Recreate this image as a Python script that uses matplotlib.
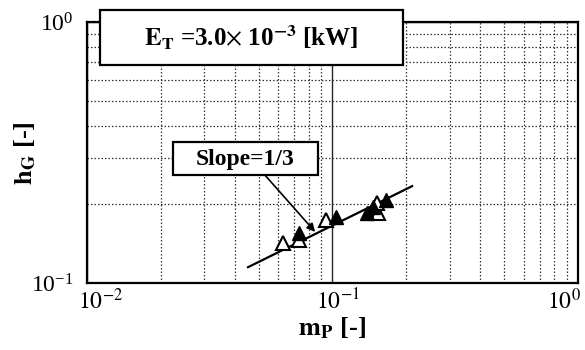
import matplotlib
matplotlib.use("Agg")
import matplotlib.pyplot as plt
from matplotlib.patches import Rectangle
from matplotlib.ticker import NullFormatter

plt.rcParams['font.family'] = 'serif'
plt.rcParams['font.serif'] = ['Liberation Serif', 'DejaVu Serif']
plt.rcParams['mathtext.fontset'] = 'stix'

# data
open_x = [0.063, 0.073, 0.094, 0.153, 0.152]
open_y = [0.142, 0.146, 0.174, 0.185, 0.203]
filled_x = [0.073, 0.103, 0.138, 0.146, 0.165]
filled_y = [0.155, 0.179, 0.185, 0.195, 0.208]
fit_x = [0.0453, 0.211]
fit_y = [0.115, 0.235]

x_ticks = [0.01, 0.1, 1]
x_ticklabels = [r'$10^{-2}$', r'$10^{-1}$', r'$10^{0}$']

# label arrow (tail -> head) in data units
arrow_tail = (0.0531, 0.259)
arrow_head = (0.085, 0.157)

fig = plt.figure(figsize=(5.85, 3.5), dpi=100)
ax = fig.add_axes([0.1487, 0.1914, 0.8393, 0.7457])

ax.set_xscale('log')
ax.set_yscale('log')
ax.set_xlim(0.01, 1)
ax.set_ylim(0.1, 1)
ax.xaxis.set_major_formatter(NullFormatter())
ax.xaxis.set_minor_formatter(NullFormatter())
ax.yaxis.set_minor_formatter(NullFormatter())

# grid: solid for decades, dotted in between
ax.grid(which='major', color='0.15', linestyle='-', linewidth=1.0)
ax.grid(which='minor', color='0.2', linestyle=(0, (1.2, 1.6)), linewidth=0.9)
ax.tick_params(which='both', length=0, labelsize=17)
ax.tick_params(axis='y', pad=10)
ax.set_axisbelow(True)
for s in ax.spines.values():
    s.set_linewidth(1.6)

# x tick labels, end ones nudged inward like the original
nudges = [14, 5, -14]
for xv, lab, dx in zip(x_ticks, x_ticklabels, nudges):
    ax.annotate(lab, xy=(xv, 0), xycoords=ax.get_xaxis_transform(),
                xytext=(dx, -6), textcoords='offset pixels',
                ha='center', va='top', fontsize=17, annotation_clip=False)

ax.plot(fit_x, fit_y, color='black', lw=1.6, zorder=3)
ax.plot(open_x, open_y, linestyle='none', marker='^', markersize=10,
        markerfacecolor='white', markeredgecolor='black', markeredgewidth=1.5, zorder=4)
ax.plot(filled_x, filled_y, linestyle='none', marker='^', markersize=10,
        markerfacecolor='black', markeredgecolor='black', zorder=5)

ax.annotate('', xy=arrow_head, xytext=arrow_tail,
            arrowprops=dict(arrowstyle='-|>', color='black', lw=1.2,
                            mutation_scale=12, shrinkA=0, shrinkB=0), zorder=6)

W, H = 585.0, 350.0
fig.text(332 / W, 1 - 328 / H, r'$\mathbf{m_P}$ [-]', fontsize=19, fontweight='bold',
         ha='center', va='center')
fig.text(25 / W, 1 - 153 / H, r'$\mathbf{h_G}$ [-]', fontsize=19, fontweight='bold',
         ha='center', va='center', rotation=90)

# boxed labels (figure pixel layout)
def fig_box(x0, y0, x1, y1):
    r = Rectangle((x0 / W, 1 - y1 / H), (x1 - x0) / W, (y1 - y0) / H,
                  transform=fig.transFigure, facecolor='white',
                  edgecolor='black', linewidth=1.6, zorder=10)
    fig.patches.append(r)

fig_box(100, 10, 403, 65)
fig.text(251 / W, 1 - 38 / H, r'$\mathbf{E_T}$ =3.0$\times$ 10$^{\mathbf{-3}}$ [kW]',
         fontsize=18, fontweight='bold', ha='center', va='center', zorder=11)

fig_box(173, 142, 318, 175)
fig.text(245 / W, 1 - 159 / H, 'Slope=1/3', fontsize=17, fontweight='bold',
         ha='center', va='center', zorder=11)

fig.savefig('out.png', dpi=100)
